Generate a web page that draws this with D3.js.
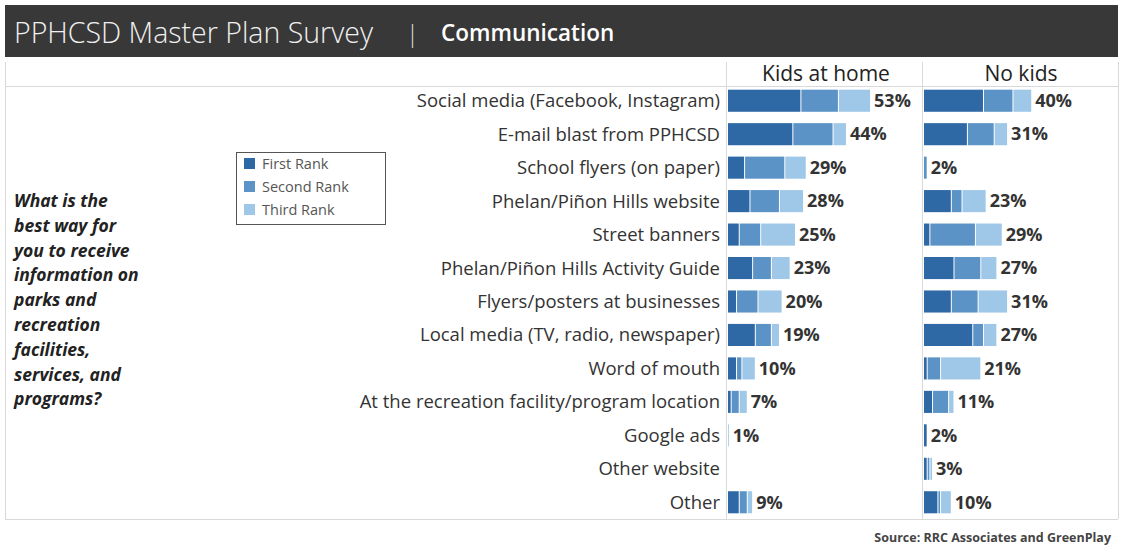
<!DOCTYPE html>
<html><head><meta charset="utf-8">
<script src="https://cdn.jsdelivr.net/npm/d3@7"></script>
<style>
body{margin:0;background:#fff;}
svg{font-family:"Open Sans","Noto Sans",sans-serif;}
</style></head>
<body><svg id="c" width="1121" height="550"></svg>
<script>
const categories = ["Social media (Facebook, Instagram)","E-mail blast from PPHCSD","School flyers (on paper)","Phelan/Piñon Hills website","Street banners","Phelan/Piñon Hills Activity Guide","Flyers/posters at businesses","Local media (TV, radio, newspaper)","Word of mouth","At the recreation facility/program location","Google ads","Other website","Other"];
const groups = ["Kids at home","No kids"];
const ranks = ["First Rank","Second Rank","Third Rank"];
// Kids at home
const kidsFirst  = [27,24,6,8,4,9,3,10,3,1,0,0,4];
const kidsSecond = [14,15,15,11,8,7,8,6,2,3,0,0,3];
const kidsThird  = [12,5,8,9,13,7,9,3,5,3,0.3,0,2];
const kidsTotal  = ["53%","44%","29%","28%","25%","23%","20%","19%","10%","7%","1%","","9%"];
// No kids
const noFirst  = [22,16,0,10,2,11,10,18,1,3,1,1,5];
const noSecond = [11,10,1,4,17,10,10,4,5,6,0,1,1];
const noThird  = [7,5,0,9,10,6,11,5,15,2,0,1,4];
const noTotal  = ["40%","31%","2%","23%","29%","27%","31%","27%","21%","11%","2%","3%","10%"];
const question = ["What is the","best way for","you to receive","information on","parks and","recreation","facilities,","services, and","programs?"];

const colors = ["#2e68a5","#5b93c7","#9fc7e7"];
const svg = d3.select("#c");

// header
svg.append("rect").attr("x",5).attr("y",5).attr("width",1113).attr("height",52).attr("fill","#383838");
svg.append("text").attr("x",14).attr("y",43).attr("fill","#f0f0f0").attr("font-size",28.5).attr("font-weight",300).text("PPHCSD Master Plan Survey");
svg.append("text").attr("x",406).attr("y",42).attr("fill","#ddd").attr("font-size",24).attr("font-weight",300).text("|");
svg.append("text").attr("x",441).attr("y",41).attr("fill","#fff").attr("font-size",22.5).attr("font-weight",600).text("Communication");

const y = d3.scaleBand().domain(categories).range([84,519]).paddingInner(0.34).paddingOuter(0.17);
const x = d3.scaleLinear().domain([0,72]).range([0,193]);
const panels = [
  {x0:728, first:kidsFirst, second:kidsSecond, third:kidsThird, tot:kidsTotal, name:groups[0], cx:826},
  {x0:924, first:noFirst, second:noSecond, third:noThird, tot:noTotal, name:groups[1], cx:1021}
];

// grid lines
const g = svg.append("g").attr("stroke","#d9d9d9").attr("stroke-width",1);
g.append("line").attr("x1",5).attr("x2",1118).attr("y1",86.5).attr("y2",86.5);
g.append("line").attr("x1",5).attr("x2",1118).attr("y1",519.5).attr("y2",519.5);
g.append("line").attr("x1",726.5).attr("x2",726.5).attr("y1",62).attr("y2",519);
g.append("line").attr("x1",922.5).attr("x2",922.5).attr("y1",62).attr("y2",519);
g.append("line").attr("x1",1118.5).attr("x2",1118.5).attr("y1",62).attr("y2",519);
g.append("line").attr("x1",5.5).attr("x2",5.5).attr("y1",62).attr("y2",519);

// category labels
svg.append("g").selectAll("text").data(categories).join("text")
  .attr("x",720).attr("y",d=>y(d)+y.bandwidth()/2).attr("dy","0.35em")
  .attr("text-anchor","end").attr("font-size",18.5).attr("fill","#333").text(d=>d);

panels.forEach(p=>{
  svg.append("text").attr("x",p.cx).attr("y",81).attr("text-anchor","middle").attr("font-size",21).attr("fill","#222").text(p.name);
  const rows = categories.map((c,i)=>({c, v:[p.first[i],p.second[i],p.third[i]], t:p.tot[i]}));
  const stack = d3.stack().keys([0,1,2]).value((d,k)=>d.v[k]);
  const series = stack(rows);
  series.forEach((s,k)=>{
    svg.append("g").selectAll("rect").data(s.filter(d=>d[1]>d[0])).join("rect")
      .attr("x",d=>p.x0+x(d[0])+(d[0]>0?1:0))
      .attr("y",d=>y(d.data.c))
      .attr("width",d=>Math.max(0.8,x(d[1])-x(d[0])-(d[0]>0?1:0)))
      .attr("height",y.bandwidth())
      .attr("fill",colors[k]);
  });
  svg.append("g").selectAll("text").data(rows).join("text")
    .attr("x",d=>p.x0+x(d3.sum(d.v))+4)
    .attr("y",d=>y(d.c)+y.bandwidth()/2).attr("dy","0.35em")
    .attr("font-size",18).attr("font-weight",700).attr("fill","#333").text(d=>d.t);
});

// question
svg.append("g").selectAll("text").data(question).join("text")
  .attr("x",14).attr("y",(d,i)=>207+i*24.8).attr("font-size",17.5).attr("font-weight",700).attr("font-style","italic")
  .attr("fill","#222").text(d=>d);

// legend
const lg = svg.append("g");
lg.append("rect").attr("x",236.5).attr("y",152.5).attr("width",149).attr("height",72).attr("fill","#fff").attr("stroke","#555");
ranks.forEach((r,i)=>{
  lg.append("rect").attr("x",244).attr("y",158+i*23).attr("width",11).attr("height",11).attr("fill",colors[i]);
  lg.append("text").attr("x",262).attr("y",164+i*23).attr("dy","0.35em").attr("font-size",14.5).attr("fill","#555").text(r);
});

svg.append("text").attr("x",1111).attr("y",542).attr("text-anchor","end").attr("font-size",12.5).attr("font-weight",700).attr("fill","#444").text("Source: RRC Associates and GreenPlay");
</script></body></html>
